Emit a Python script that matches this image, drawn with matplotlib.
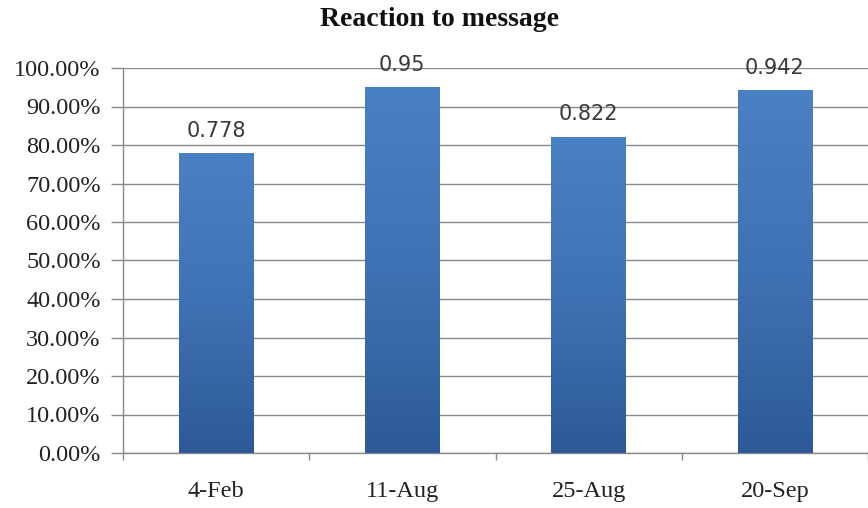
import matplotlib
matplotlib.use("Agg")
import matplotlib.pyplot as plt
import numpy as np
from matplotlib.colors import LinearSegmentedColormap
from matplotlib.ticker import FuncFormatter, MultipleLocator

categories = ["4-Feb", "11-Aug", "25-Aug", "20-Sep"]
values = [0.778, 0.95, 0.822, 0.942]
value_labels = ["0.778", "0.95", "0.822", "0.942"]
title = "Reaction to message"

fig = plt.figure(figsize=(8.68, 5.08), dpi=100)
ax = fig.add_axes([123 / 868, 55 / 508, 745 / 868, 385 / 508])

x = np.arange(len(categories))
bar_w = 0.4
bars = ax.bar(x, values, width=bar_w, color="none", edgecolor="none", zorder=3)

# vertical gradient fill for each bar
cmap = LinearSegmentedColormap.from_list("bluegrad", ["#2d5a96", "#3f72b4", "#4a80c4"])
grad = np.linspace(0, 1, 256).reshape(-1, 1)
for b in bars:
    x0, w, h = b.get_x(), b.get_width(), b.get_height()
    im = ax.imshow(grad, cmap=cmap, aspect="auto", origin="lower",
                   extent=[x0, x0 + w, 0, h], zorder=3)
    im.set_clip_path(b)

ax.set_xlim(-0.5, 3.46)
ax.set_ylim(0, 1.0)
ax.yaxis.set_major_locator(MultipleLocator(0.1))
ax.yaxis.set_major_formatter(FuncFormatter(lambda v, p: f"{v * 100:.2f}%"))
ax.grid(axis="y", color="#8a8a8a", linewidth=1.0, zorder=0)
ax.set_axisbelow(True)

ax.set_xticks(x)
ax.set_xticklabels(categories)
ax.set_xticks(np.arange(-0.5, 3.6, 1.0), minor=True)
ax.tick_params(axis="x", which="major", length=0, pad=20)
ax.tick_params(axis="x", which="minor", length=5, color="#8a8a8a", width=1)
ax.tick_params(axis="y", length=9, color="#8a8a8a", width=1, pad=7)

for lbl in ax.get_xticklabels() + ax.get_yticklabels():
    lbl.set_fontfamily("Liberation Serif")
    lbl.set_fontsize(17.5)
    lbl.set_color("#222222")

for side in ["top", "right"]:
    ax.spines[side].set_visible(False)
for side in ["left", "bottom"]:
    ax.spines[side].set_color("#8a8a8a")
    ax.spines[side].set_linewidth(1.0)

for xi, v, s in zip(x, values, value_labels):
    ax.annotate(s, (xi, v), xytext=(0, 9), textcoords="offset points",
                ha="center", va="bottom", fontsize=15,
                family="DejaVu Sans", color="#3a3a3a", zorder=4)

fig.text(440 / 868, 1 - 20 / 508, title, ha="center", va="center",
         fontsize=20, fontweight="bold", family="Liberation Serif", color="#111111")

fig.savefig("out.png", dpi=100, facecolor="white")
